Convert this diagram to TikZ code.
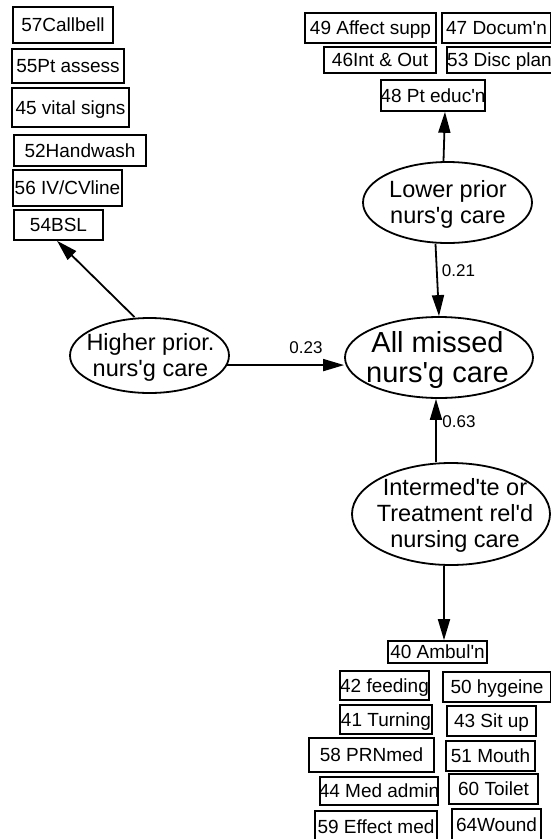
\documentclass[tikz,border=0pt]{standalone}
\usepackage{fontspec}
\setmainfont{Liberation Sans}
\usetikzlibrary{arrows.meta,shapes.geometric}
% straight apostrophe
\newcommand{\ap}{\textquotesingle}
\begin{document}
\begin{tikzpicture}[x=1pt,y=-1pt,
  bx/.style={draw, line width=1.6pt, rectangle, inner sep=0pt,
    font=\fontsize{19}{22}\selectfont, text height=17.6pt, text depth=4pt,
    execute at begin node={\hbox to 0pt\bgroup\hss},
    execute at end node={\hss\egroup}},
  el/.style={draw, ellipse, line width=1.8pt, inner sep=0pt},
  et/.style={align=center, inner sep=0pt, font=\fontsize{23.5}{26}\selectfont},
  etbig/.style={align=center, inner sep=0pt, font=\fontsize{29}{30}\selectfont},
  lbl/.style={inner sep=0pt, font=\fontsize{17}{20}\selectfont, text height=12.2pt, text depth=0pt},
  arr/.style={line width=1.8pt, -{Triangle[length=21pt,width=12pt]}}]
\fill[white] (0,0) rectangle (550,839);
\useasboundingbox (0,0) rectangle (550,839);

% indicator boxes, higher priority
\node[bx, minimum width=100, minimum height=36] (cb)  at (63,25)     {57Callbell};
\node[bx, minimum width=112, minimum height=34] (pa)  at (68,66)     {55Pt assess};
\node[bx, minimum width=117, minimum height=39] (vs)  at (70.5,107.5) {45 vital signs};
\node[bx, minimum width=132, minimum height=31] (hw)  at (80,150.5)  {52Handwash};
\node[bx, minimum width=109, minimum height=36] (iv)  at (67.5,188)  {56 IV/CVline};
\node[bx, minimum width=89,  minimum height=30] (bsl) at (58.5,225)  {54BSL};

% indicator boxes, lower priority
\node[bx, minimum width=131, minimum height=30] (af) at (370.5,28) {49 Affect supp};
\node[bx, minimum width=109, minimum height=30] (dc) at (496.5,28) {47 Docum\ap n};
\node[bx, minimum width=112, minimum height=26] (io) at (380,60)   {46Int \& Out};
\node[bx, minimum width=105, minimum height=26] (dp) at (499.5,60) {53 Disc plan};
\node[bx, minimum width=104, minimum height=31] (pe) at (433,95.5) {48 Pt educ\ap n};

% indicator boxes, intermediate / treatment related
\node[bx, minimum width=99,  minimum height=22] (ab) at (437.5,652) {40 Ambul\ap n};
\node[bx, minimum width=89,  minimum height=29] (fd) at (384.5,685.5) {42 feeding};
\node[bx, minimum width=108, minimum height=30] (hy) at (497,687)   {50 hygeine};
\node[bx, minimum width=92,  minimum height=29] (tu) at (386,719.5) {41 Turning};
\node[bx, minimum width=89,  minimum height=30] (su) at (491.5,721) {43 Sit up};
\node[bx, minimum width=125, minimum height=34] (pr) at (371.5,755) {58 PRNmed};
\node[bx, minimum width=89,  minimum height=30] (mo) at (490.5,756) {51 Mouth};
\node[bx, minimum width=118, minimum height=28] (ma) at (379,791)   {44 Med admin};
\node[bx, minimum width=89,  minimum height=30] (tl) at (493.5,789) {60 Toilet};
\node[bx, minimum width=122, minimum height=32] (em) at (376,827)   {59 Effect med};
\node[bx, minimum width=89,  minimum height=32] (wd) at (496.5,825) {64Wound};

% latent factors
\node[el, minimum width=169, minimum height=81]  (lo) at (447.5,202.5) {};
\node[et] (lot) at (448,204.5) {Lower prior\\nurs\ap g care};
\node[el, minimum width=159, minimum height=75]  (hp) at (149.5,355.5) {};
\node[et] (hpt) at (150.5,357.5) {Higher prior.\\nurs\ap g care};
\node[el, minimum width=188, minimum height=81]  (am) at (439,357.5) {};
\node[etbig] (amt) at (437.5,360) {All missed\\nurs\ap g care};
\node[el, minimum width=198, minimum height=102] (im) at (451,514) {};
\node[et] (imt) at (455,515.5) {Intermed\ap te or\\Treatment rel\ap d\\nursing care};

% path coefficients
\node[lbl] (w23) at (306,347.5) {0.23};
\node[lbl] (w21) at (458.5,270) {0.21};
\node[lbl] (w63) at (459,421) {0.63};

% connectors
\draw[arr] ([xshift=-15]hp.north) -- ([xshift=-1.5]bsl.south);
\draw[arr] ([xshift=-4]lo.north) -- ([xshift=12]pe.south);
\draw[arr] ([xshift=-12]lo.south) -- (am.north);
\draw[arr] (hp.-7.4) -- (am.west |- hp.-7.4);
\draw[arr] ([xshift=-15]im.north) -- ([xshift=-3]am.south);
\draw[arr] ([xshift=-7]im.south) -- ([xshift=6.5]ab.north);
\end{tikzpicture}
\end{document}
